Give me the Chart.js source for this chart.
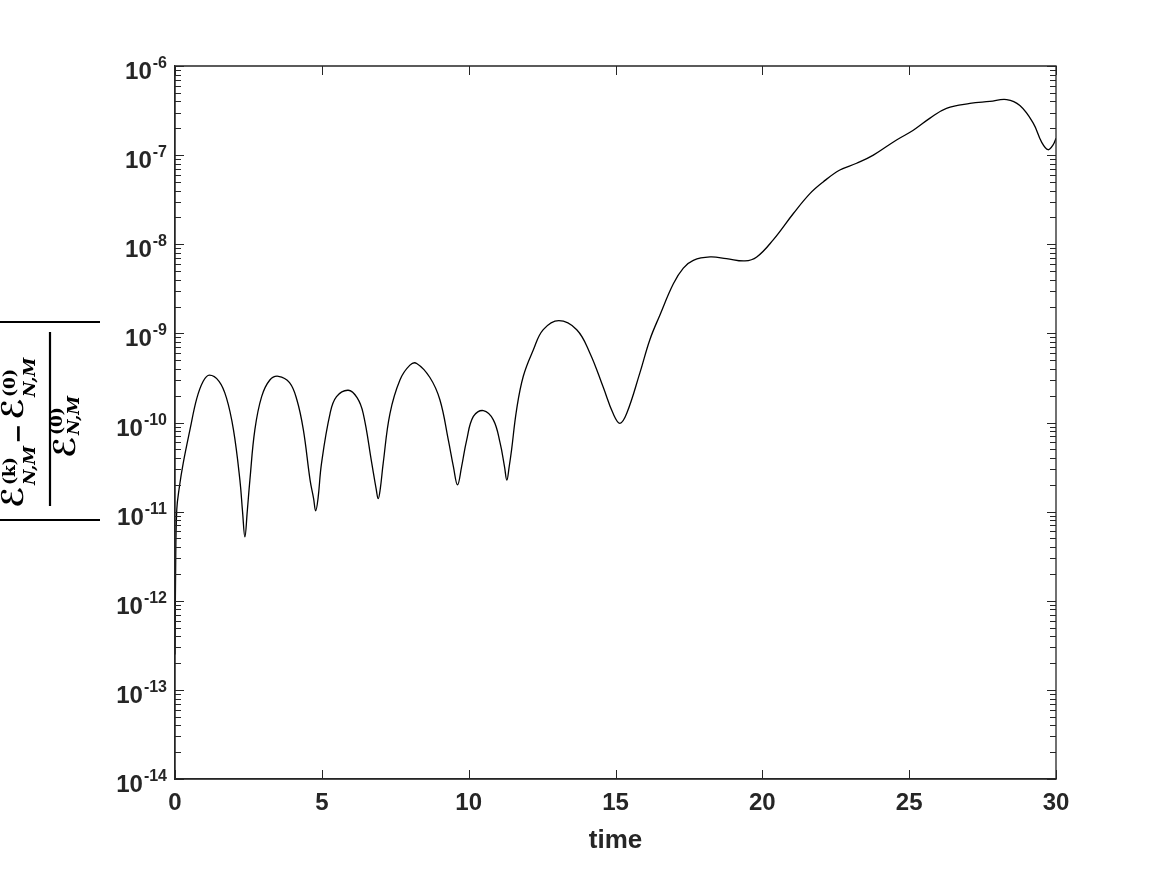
<!DOCTYPE html>
<html>
<head>
<meta charset="utf-8">
<script src="https://cdn.jsdelivr.net/npm/chart.js@4.4.1/dist/chart.umd.min.js"></script>
<style>
html, body { margin: 0; padding: 0; background: #fff; }
#wrap { width: 1167px; height: 875px; }
</style>
</head>
<body>
<div id="wrap"><canvas id="errorChart" width="1167" height="875"></canvas></div>
<script>
// time samples and relative energy error
const timeValues = [
    0, 0.02, 0.06, 0.15, 0.28, 0.51, 0.74, 0.96, 1.17, 1.5, 1.75, 1.99, 2.21, 2.30, 2.38, 2.46, 2.55, 2.72, 2.95, 3.23,
    3.52, 3.9, 4.15, 4.37, 4.6, 4.72, 4.79, 4.87, 4.99, 5.28, 5.5, 5.9, 6.2, 6.41, 6.7, 6.85, 6.92, 6.99, 7.09, 7.32,
    7.66, 8.0, 8.23, 8.68, 9.02, 9.31, 9.48, 9.62, 9.76, 9.93, 10.16, 10.5, 10.84, 11.07, 11.22, 11.30, 11.38, 11.46, 11.63, 11.86,
    12.2, 12.54, 13.07, 13.68, 14.13, 14.58, 14.92, 15.15, 15.38, 15.83, 16.17, 16.51, 16.97, 17.31, 17.65, 18.22, 18.78, 19.41, 19.81, 20.37,
    21.05, 21.62, 22.07, 22.64, 23.21, 23.78, 24.57, 25.14, 25.71, 26.27, 27.07, 27.75, 28.32, 28.77, 29.22, 29.51, 29.73, 29.9, 30
];
const errorValues = [
    2.5e-13, 2e-12, 1.05e-11, 1.9e-11, 3.5e-11, 8.3e-11, 1.85e-10, 2.9e-10, 3.4e-10, 2.9e-10, 1.9e-10, 8.3e-11, 2.26e-11, 1.0e-11, 5.2e-12, 1.0e-11, 2.26e-11, 8.3e-11, 1.95e-10, 3.0e-10,
    3.3e-10, 2.8e-10, 1.8e-10, 8.3e-11, 2.26e-11, 1.4e-11, 1.02e-11, 1.4e-11, 3.5e-11, 1.26e-10, 1.95e-10, 2.3e-10, 1.9e-10, 1.26e-10, 3.5e-11, 1.8e-11, 1.4e-11, 1.8e-11, 3.5e-11, 1.26e-10,
    3.0e-10, 4.4e-10, 4.6e-10, 3.2e-10, 1.8e-10, 6.3e-11, 3.2e-11, 2.0e-11, 3.2e-11, 6.3e-11, 1.17e-10, 1.36e-10, 1.07e-10, 5.9e-11, 3.2e-11, 2.26e-11, 3.2e-11, 4.9e-11, 1.38e-10, 3.3e-10,
    6.5e-10, 1.1e-9, 1.39e-9, 1.1e-9, 6.0e-10, 2.5e-10, 1.26e-10, 9.8e-11, 1.26e-10, 3.6e-10, 8.5e-10, 1.6e-9, 3.6e-9, 5.4e-9, 6.6e-9, 7.2e-9, 6.9e-9, 6.5e-9, 7.2e-9, 1.12e-8,
    2.2e-8, 3.7e-8, 5.0e-8, 6.8e-8, 8.1e-8, 1.0e-7, 1.48e-7, 1.9e-7, 2.6e-7, 3.35e-7, 3.8e-7, 4.0e-7, 4.2e-7, 3.6e-7, 2.3e-7, 1.4e-7, 1.15e-7, 1.3e-7, 1.55e-7
];
const xTicks = [0, 5, 10, 15, 20, 25, 30];
const yExponents = [-14, -13, -12, -11, -10, -9, -8, -7, -6];
const yMinorSteps = [2, 3, 4, 5, 6, 7, 8, 9];

const axisColor = '#262626';
const labelFont = '"Liberation Sans", Arial, Helvetica, sans-serif';

// MATLAB-style box, inward ticks, 10^n labels and the LaTeX-like y label
const matlabAxes = {
    id: 'matlabAxes',
    afterDraw(chart) {
        const ctx = chart.ctx;
        const area = chart.chartArea;
        const xs = chart.scales.x;
        const ys = chart.scales.y;
        ctx.save();
        ctx.strokeStyle = axisColor;
        ctx.lineWidth = 1.3;
        ctx.beginPath();
        ctx.rect(area.left, area.top, area.right - area.left, area.bottom - area.top);
        ctx.stroke();

        ctx.lineWidth = 1;
        ctx.beginPath();
        xTicks.forEach(v => {
            const px = Math.round(xs.getPixelForValue(v)) + 0.5;
            ctx.moveTo(px, area.bottom); ctx.lineTo(px, area.bottom - 9);
            ctx.moveTo(px, area.top); ctx.lineTo(px, area.top + 9);
        });
        yExponents.forEach((e, i) => {
            const major = Math.round(ys.getPixelForValue(Math.pow(10, e))) + 0.5;
            ctx.moveTo(area.left, major); ctx.lineTo(area.left + 9, major);
            ctx.moveTo(area.right, major); ctx.lineTo(area.right - 9, major);
            if (i === yExponents.length - 1) return;
            yMinorSteps.forEach(m => {
                const py = Math.round(ys.getPixelForValue(m * Math.pow(10, e))) + 0.5;
                ctx.moveTo(area.left, py); ctx.lineTo(area.left + 6, py);
                ctx.moveTo(area.right, py); ctx.lineTo(area.right - 6, py);
            });
        });
        ctx.stroke();

        // y tick labels 10^n
        ctx.fillStyle = axisColor;
        ctx.textBaseline = 'alphabetic';
        ctx.textAlign = 'left';
        yExponents.forEach(e => {
            const py = ys.getPixelForValue(Math.pow(10, e));
            const sup = String(e);
            ctx.font = 'bold 24px ' + labelFont;
            const baseW = ctx.measureText('10').width;
            ctx.font = 'bold 16px ' + labelFont;
            const supW = ctx.measureText(sup).width;
            const x0 = 167 - supW - baseW - 1;
            ctx.font = 'bold 24px ' + labelFont;
            ctx.fillText('10', x0, py + 13);
            ctx.font = 'bold 16px ' + labelFont;
            ctx.fillText(sup, x0 + baseW + 1, py + 2);
        });

        // y axis label: |(E^(k) - E^(0)) / E^(0)|
        ctx.translate(50, 420);
        ctx.rotate(-Math.PI / 2);
        ctx.fillStyle = '#000';
        ctx.strokeStyle = '#000';
        ctx.lineWidth = 2.2;
        ctx.beginPath();
        ctx.moveTo(-100, -50); ctx.lineTo(-100, 50);
        ctx.moveTo(98, -50); ctx.lineTo(98, 50);
        ctx.moveTo(-86, 0); ctx.lineTo(88, 0);
        ctx.stroke();
        const bigE = 'bold 30px "DejaVu Sans", sans-serif';
        const small = 'bold 17px "DejaVu Serif", serif';
        const smallIt = 'bold italic 17px "DejaVu Serif", serif';
        // draws one E term, returns its right edge
        const term = (x, base, sup, supDy, subDy) => {
            ctx.font = bigE;
            ctx.fillText('\u2130', x, base);
            const sx = x + ctx.measureText('\u2130').width + 1;
            ctx.font = small;
            ctx.fillText(sup, sx, base + supDy);
            const w1 = ctx.measureText(sup).width;
            ctx.font = smallIt;
            ctx.fillText('N,M', sx, base + subDy);
            return sx + Math.max(w1, ctx.measureText('N,M').width);
        };
        let right = term(-88, -27, '(k)', -8, 12);
        ctx.font = 'bold 24px "DejaVu Serif", serif';
        ctx.fillText('\u2212', right + 2, -24);
        right += 5 + ctx.measureText('\u2212').width;
        term(right + 1, -27, '(0)', -8, 12);
        term(-38, 25, '(0)', -13, 4);
        ctx.restore();
    }
};

const points = timeValues.map((t, i) => ({ x: t, y: errorValues[i] }));

new Chart(document.getElementById('errorChart'), {
    type: 'line',
    data: {
        datasets: [{
            data: points,
            borderColor: '#000',
            borderWidth: 1.3,
            pointRadius: 0,
            fill: false,
            tension: 0.4
        }]
    },
    options: {
        responsive: false,
        animation: false,
        devicePixelRatio: 1,
        layout: { padding: { left: 0, top: 66, right: 111, bottom: 0 } },
        plugins: {
            legend: { display: false },
            tooltip: { enabled: false }
        },
        scales: {
            x: {
                type: 'linear',
                min: 0,
                max: 30,
                afterBuildTicks: s => { s.ticks = xTicks.map(v => ({ value: v })); },
                afterFit: s => { s.height = 96; },
                grid: { display: false, drawTicks: false },
                border: { display: true, color: axisColor, width: 1.3 },
                ticks: {
                    padding: 10,
                    maxRotation: 0,
                    color: axisColor,
                    font: { family: labelFont, size: 24, weight: 'bold' }
                },
                title: {
                    display: true,
                    text: 'time',
                    color: axisColor,
                    padding: { top: 0, bottom: 19 },
                    font: { family: labelFont, size: 26, weight: 'bold' }
                }
            },
            y: {
                type: 'logarithmic',
                min: 1e-14,
                max: 1e-6,
                afterFit: s => { s.width = 175; },
                grid: { display: false, drawTicks: false },
                border: { display: true, color: axisColor, width: 1.3 },
                ticks: { display: false }
            }
        }
    },
    plugins: [matlabAxes]
});
</script>
</body>
</html>
